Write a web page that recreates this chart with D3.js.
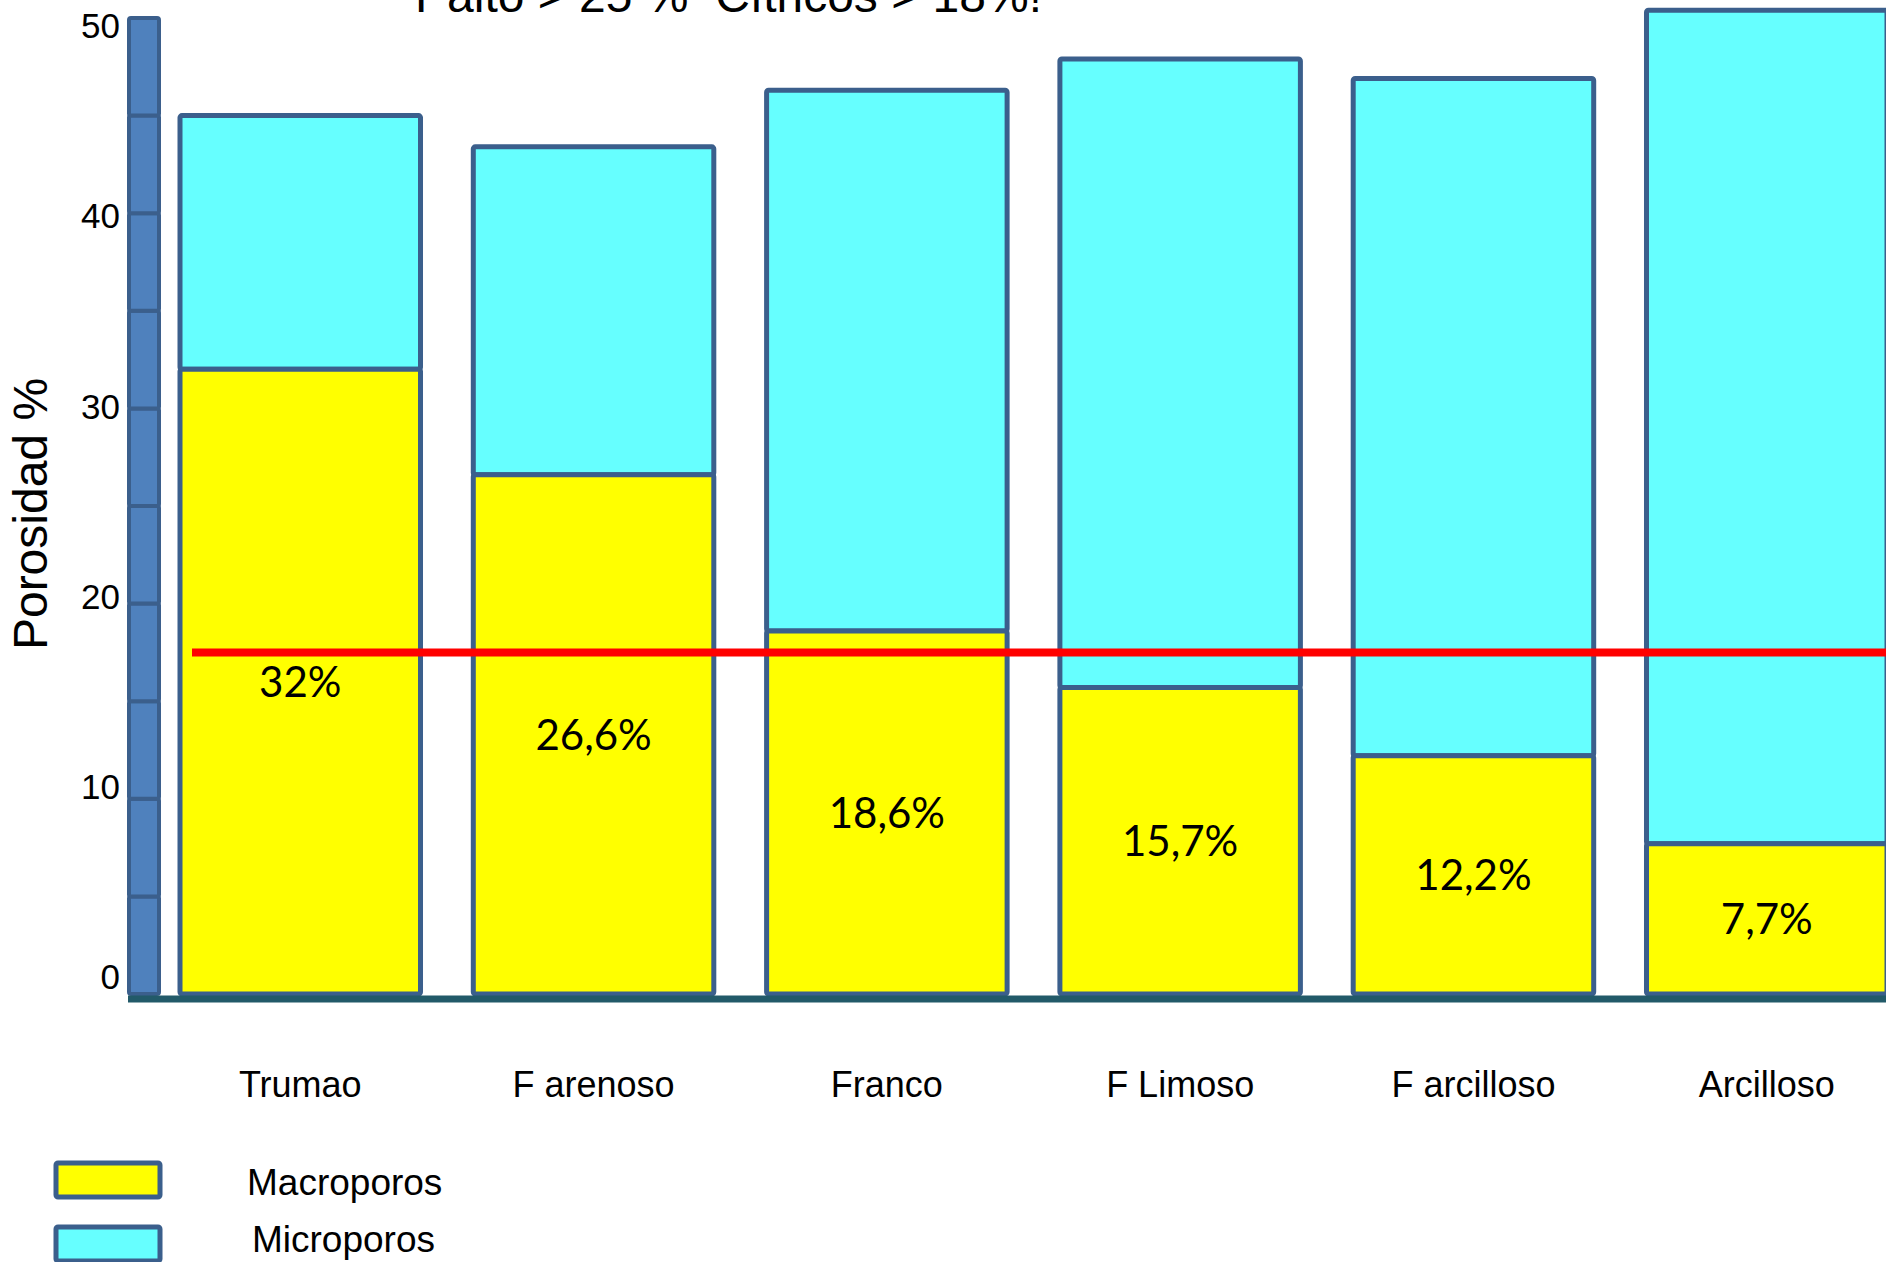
<!DOCTYPE html>
<html lang="es">
<head>
<meta charset="utf-8">
<title>Porosidad por textura de suelo</title>
<script src="https://cdn.jsdelivr.net/npm/d3@7"></script>
<style>
  html, body { margin: 0; padding: 0; background: #ffffff; }
  svg { display: block; }
  text { white-space: pre; }
</style>
</head>
<body>
<script>
// Soil textures and their pore fractions (% of soil volume)
const categories = ["Trumao", "F arenoso", "Franco", "F Limoso", "F arcilloso", "Arcilloso"];
const macroporos = [32, 26.6, 18.6, 15.7, 12.2, 7.7];
const microporos = [13.0, 16.8, 27.7, 32.2, 34.7, 42.7];
const yTicks = [0, 10, 20, 30, 40, 50];
const umbralCitricos = 17.5;
const titulo = "Palto > 25 %  Cítricos > 18%!";
const ejeY = "Porosidad %";
const leyenda = ["Macroporos", "Microporos"];

const W = 1886, H = 1262;
const COL_MACRO = "#ffff00";
const COL_MICRO = "#66ffff";
const COL_EDGE = "#3b5f8c";
const SANS = "'Liberation Sans', Arial, sans-serif";
const LABEL_FONT = "Lato, 'Open Sans', sans-serif";

const svg = d3.select("body").append("svg")
  .attr("width", W).attr("height", H)
  .attr("viewBox", `0 0 ${W} ${H}`);

svg.append("rect").attr("width", W).attr("height", H).attr("fill", "#fff");

const y = d3.scaleLinear().domain([0, 50]).range([994, 18]);
// tick labels sit on a slightly tighter ladder than the axis blocks
const yLabel = d3.scaleLinear().domain([0, 50]).range([977, 26]);
const x = d3.scaleBand().domain(categories).range([180, 1887])
  .paddingInner(0.18).paddingOuter(0);

// Title (partly above the page edge)
svg.append("text")
  .attr("x", 415).attr("y", 12)
  .attr("font-family", SANS).attr("font-size", 48)
  .attr("fill", "#000")
  .attr("xml:space", "preserve")
  .text(titulo);

// Y axis drawn as a column of 5-unit blocks
const blocks = d3.range(0, 50, 5);
svg.append("g").selectAll("rect").data(blocks).join("rect")
  .attr("x", 129).attr("width", 30)
  .attr("y", d => y(d + 5))
  .attr("height", d => y(d) - y(d + 5))
  .attr("rx", 2)
  .attr("fill", "#4f81bd")
  .attr("stroke", COL_EDGE).attr("stroke-width", 4);

// Y tick labels
svg.append("g").selectAll("text").data(yTicks).join("text")
  .attr("x", 120).attr("y", d => yLabel(d))
  .attr("dy", "0.35em")
  .attr("text-anchor", "end")
  .attr("font-family", SANS).attr("font-size", 35)
  .attr("fill", "#000")
  .text(d => d);

// Y axis title
svg.append("text")
  .attr("transform", "translate(47,514) rotate(-90)")
  .attr("text-anchor", "middle")
  .attr("font-family", SANS).attr("font-size", 48)
  .attr("fill", "#000")
  .text(ejeY);

// Stacked bars: microporos on top of macroporos
const rows = categories.map((c, i) => ({ c, macro: macroporos[i], micro: microporos[i] }));
const bars = svg.append("g");

bars.selectAll("rect.micro").data(rows).join("rect")
  .attr("class", "micro")
  .attr("x", d => x(d.c)).attr("width", x.bandwidth())
  .attr("y", d => y(d.macro + d.micro))
  .attr("height", d => y(d.macro) - y(d.macro + d.micro))
  .attr("rx", 2)
  .attr("fill", COL_MICRO)
  .attr("stroke", COL_EDGE).attr("stroke-width", 5);

bars.selectAll("rect.macro").data(rows).join("rect")
  .attr("class", "macro")
  .attr("x", d => x(d.c)).attr("width", x.bandwidth())
  .attr("y", d => y(d.macro))
  .attr("height", d => y(0) - y(d.macro))
  .attr("rx", 2)
  .attr("fill", COL_MACRO)
  .attr("stroke", COL_EDGE).attr("stroke-width", 5);

// Baseline
svg.append("line")
  .attr("x1", 128).attr("x2", W)
  .attr("y1", y(0) + 5).attr("y2", y(0) + 5)
  .attr("stroke", "#225a69").attr("stroke-width", 7);

// Citrus threshold line
svg.append("line")
  .attr("x1", 192).attr("x2", W)
  .attr("y1", y(umbralCitricos)).attr("y2", y(umbralCitricos))
  .attr("stroke", "#ff0000").attr("stroke-width", 8);

// Macropore value labels centred in each yellow segment
const fmt = v => (Number.isInteger(v) ? String(v) : v.toFixed(1).replace(".", ",")) + "%";
svg.append("g").selectAll("text").data(rows).join("text")
  .attr("x", d => x(d.c) + x.bandwidth() / 2)
  .attr("y", d => (y(0) + y(d.macro)) / 2)
  .attr("dy", "0.36em")
  .attr("text-anchor", "middle")
  .attr("font-family", LABEL_FONT).attr("font-size", 42)
  .attr("fill", "#000")
  .text(d => fmt(d.macro));

// Category labels
svg.append("g").selectAll("text").data(categories).join("text")
  .attr("x", d => x(d) + x.bandwidth() / 2)
  .attr("y", 1097)
  .attr("text-anchor", "middle")
  .attr("font-family", SANS).attr("font-size", 36)
  .attr("fill", "#000")
  .text(d => d);

// Legend
const leg = svg.append("g").selectAll("g").data(leyenda).join("g")
  .attr("transform", (d, i) => `translate(0,${1163 + i * 64})`);
leg.append("rect")
  .attr("x", 56).attr("y", 0).attr("width", 104).attr("height", 34)
  .attr("rx", 2)
  .attr("fill", (d, i) => i === 0 ? COL_MACRO : COL_MICRO)
  .attr("stroke", COL_EDGE).attr("stroke-width", 5);
leg.append("text")
  .attr("x", (d, i) => i === 0 ? 247 : 252)
  .attr("y", (d, i) => i === 0 ? 32 : 25)
  .attr("font-family", SANS).attr("font-size", 37)
  .attr("fill", "#000")
  .text(d => d);
</script>
</body>
</html>
